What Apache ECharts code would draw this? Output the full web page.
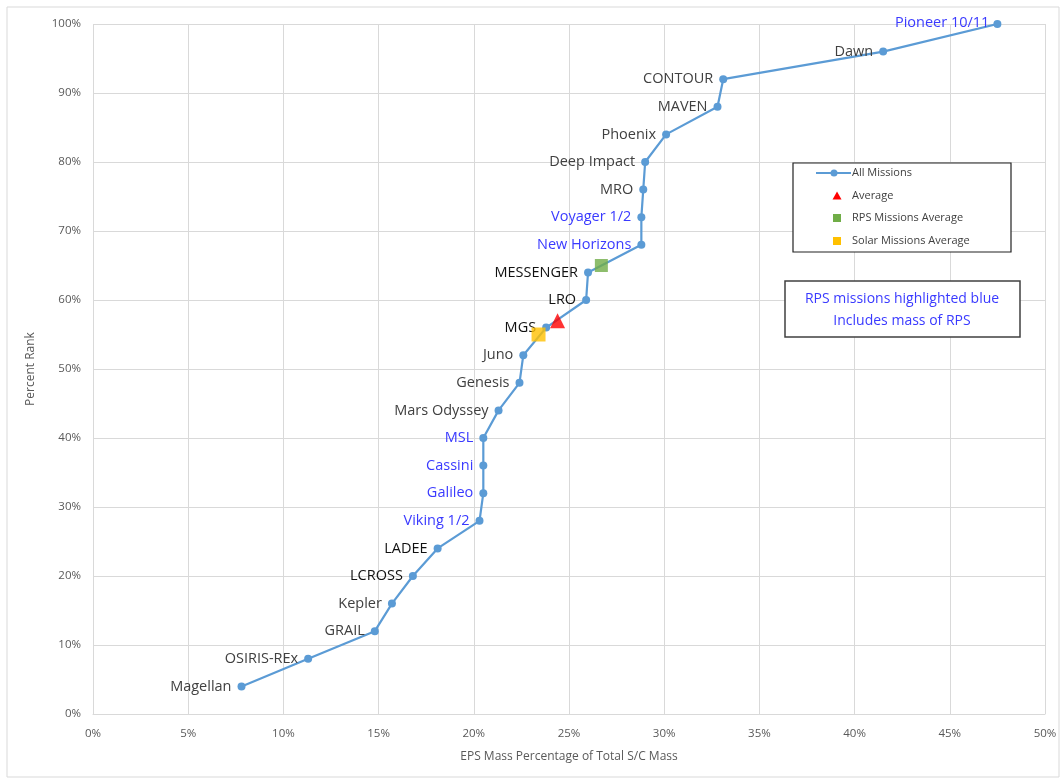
<!DOCTYPE html>
<html><head><meta charset="utf-8">
<script src="https://cdn.jsdelivr.net/npm/echarts@6/dist/echarts.min.js"></script>
<style>html,body{margin:0;padding:0;background:#fff}#c{width:1062px;height:780px}</style>
</head><body><div id="c"></div>
<script>
const missions = ['Magellan','OSIRIS-REx','GRAIL','Kepler','LCROSS','LADEE','Viking 1/2','Galileo','Cassini','MSL','Mars Odyssey','Genesis','Juno','MGS','LRO','MESSENGER','New Horizons','Voyager 1/2','MRO','Deep Impact','Phoenix','MAVEN','CONTOUR','Dawn','Pioneer 10/11'];
const epsPct = [7.8,11.3,14.8,15.7,16.8,18.1,20.3,20.5,20.5,20.5,21.3,22.4,22.6,23.8,25.9,26.0,28.8,28.8,28.9,29.0,30.1,32.8,33.1,41.5,47.5];
const rankPct = [4,8,12,16,20,24,28,32,36,40,44,48,52,56,60,64,68,72,76,80,84,88,92,96,100];
const rpsMissions = ['Viking 1/2','Galileo','Cassini','MSL','New Horizons','Voyager 1/2','Pioneer 10/11'];
const boldMissions = ['LCROSS','LADEE','MGS','LRO','MESSENGER'];
const average = [24.4, 57];
const rpsAverage = [26.7, 65];
const solarAverage = [23.4, 55];
const legendNames = ['All Missions','Average','RPS Missions Average','Solar Missions Average'];
const noteLines = ['RPS missions highlighted blue','Includes mass of RPS'];

const F = 'Open Sans, Noto Sans, sans-serif';
const BLUE='#5b9bd5', RED='#ff0000', GREEN='#70ad47', YEL='#ffc000';
const pts = missions.map((n,i)=>({
  value:[epsPct[i], rankPct[i]],
  label:{
    color: rpsMissions.includes(n) ? '#3a3aff' : (boldMissions.includes(n) ? '#111' : '#404040'),
    offset: n==='Pioneer 10/11' ? [2,-1] : [0,0]
  }
}));

// legend drawn as a box with sample markers
const lgX=793, lgY=163, lgRowY=[173,196,218,241];
const legendG=[
  {type:'rect',shape:{x:lgX,y:lgY,width:218,height:89},style:{fill:'#fff',stroke:'#222',lineWidth:1.2},z:20},
  {type:'line',shape:{x1:816,y1:lgRowY[0],x2:851,y2:lgRowY[0]},style:{stroke:BLUE,lineWidth:2},z:21},
  {type:'circle',shape:{cx:834,cy:lgRowY[0],r:3.5},style:{fill:BLUE},z:22},
  {type:'polygon',shape:{points:[[837,lgRowY[1]-4.5],[841.5,lgRowY[1]+3.5],[832.5,lgRowY[1]+3.5]]},style:{fill:RED},z:22},
  {type:'rect',shape:{x:833,y:lgRowY[2]-4,width:8,height:8},style:{fill:GREEN},z:22},
  {type:'rect',shape:{x:833,y:lgRowY[3]-4,width:8,height:8},style:{fill:YEL},z:22}
];
legendNames.forEach((t,i)=>legendG.push({type:'text',style:{x:852,y:lgRowY[i],text:t,fill:'#404040',font:'11px '+F,textVerticalAlign:'middle',verticalAlign:'middle'},z:22}));

const chart = echarts.init(document.getElementById('c'));
chart.setOption({
  animation:false,
  backgroundColor:'#fff',
  graphic:[
    {type:'rect',shape:{x:7,y:7,width:1052,height:770},style:{fill:'none',stroke:'#d9d9d9',lineWidth:1},z:-1},
    {type:'rect',shape:{x:785,y:281,width:235,height:56},style:{fill:'#fff',stroke:'#404040',lineWidth:1.5},z:10},
    {type:'text',style:{x:902,y:288,text:noteLines.join('\n'),fill:'#3a3aff',font:'14px '+F,align:'center',textAlign:'center',lineHeight:22},z:11}
  ].concat(legendG),
  grid:{left:93,right:17,top:24,bottom:66,containLabel:false},
  xAxis:{type:'value',min:0,max:50,interval:5,
    name:'EPS Mass Percentage of Total S/C Mass',nameLocation:'middle',nameGap:37,
    nameTextStyle:{color:'#595959',fontSize:12,fontFamily:F},
    axisLine:{show:true,lineStyle:{color:'#d9d9d9'}},axisTick:{show:false},
    axisLabel:{formatter:v=>v+'%',color:'#595959',fontSize:11.5,fontFamily:F,margin:14},
    splitLine:{show:true,lineStyle:{color:'#d9d9d9'}}},
  yAxis:{type:'value',min:0,max:100,interval:10,
    name:'Percent Rank',nameLocation:'middle',nameGap:56,nameRotate:90,
    nameTextStyle:{color:'#595959',fontSize:12,fontFamily:F},
    axisLine:{show:false},axisTick:{show:false},
    axisLabel:{formatter:v=>v+'%',color:'#595959',fontSize:11.5,fontFamily:F,margin:12},
    splitLine:{show:true,lineStyle:{color:'#d9d9d9'}}},
  series:[
    {name:'All Missions',type:'line',data:pts,symbol:'circle',symbolSize:8,
      itemStyle:{color:BLUE},lineStyle:{color:BLUE,width:2.2},
      label:{show:true,position:'left',distance:6,fontSize:14.5,fontFamily:F,
        formatter:p=>missions[p.dataIndex]},
      z:3},
    {name:'Average',type:'scatter',data:[average],symbol:'triangle',symbolSize:15,itemStyle:{color:RED},z:5},
    {name:'RPS Missions Average',type:'scatter',data:[rpsAverage],symbol:'rect',symbolSize:13,itemStyle:{color:GREEN},z:5},
    {name:'Solar Missions Average',type:'scatter',data:[solarAverage],symbol:'rect',symbolSize:14,itemStyle:{color:YEL},z:5}
  ]
});
</script></body></html>
